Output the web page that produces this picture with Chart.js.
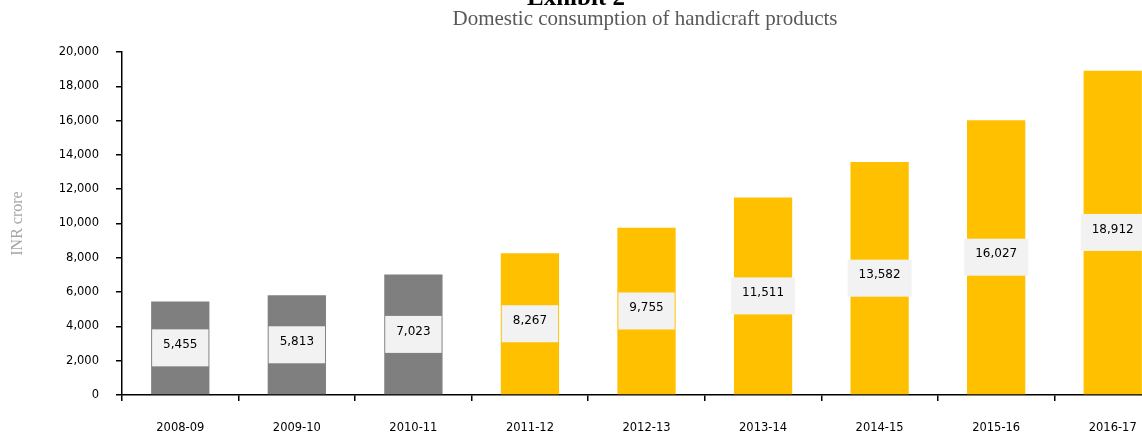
<!DOCTYPE html>
<html>
<head>
<meta charset="utf-8">
<script src="https://cdn.jsdelivr.net/npm/chart.js@4"></script>
<style>
    html, body { margin: 0; padding: 0; background: #fff; overflow: hidden; }
    #wrap { width: 1175px; height: 432px; }
</style>
</head>
<body>
<div id="wrap"><canvas id="domesticChart"></canvas></div>
<script>
// Dữ liệu biểu đồ
const categories = ['2008-09', '2009-10', '2010-11', '2011-12', '2012-13', '2013-14', '2014-15', '2015-16', '2016-17'];
const consumption = [5455, 5813, 7023, 8267, 9755, 11511, 13582, 16027, 18912];
const periodType = ['actual', 'actual', 'actual', 'estimate', 'estimate', 'estimate', 'estimate', 'estimate', 'estimate'];
const yTicks = [0, 2000, 4000, 6000, 8000, 10000, 12000, 14000, 16000, 18000, 20000];

const chartTitle = 'Exhibit 2';
const chartSubtitle = 'Domestic consumption of handicraft products';
const yAxisTitle = 'INR crore';

const GREY = '#7f7f7f';
const YELLOW = '#ffc000';
const TICK_FONT = 'DejaVu Sans';

// Ô nhãn giá trị ở giữa cột
const valueBoxPlugin = {
    id: 'valueBox',
    afterDatasetsDraw(chart) {
        const ctx = chart.ctx;
        const meta = chart.getDatasetMeta(0);
        ctx.save();
        ctx.font = '12px "' + TICK_FONT + '"';
        meta.data.forEach((bar, i) => {
            const text = consumption[i].toLocaleString('en-US');
            const w = ctx.measureText(text).width + 22;
            const h = 37;
            const cy = (bar.y + bar.base) / 2;
            ctx.fillStyle = '#f2f2f2';
            ctx.fillRect(bar.x - w / 2, cy - h / 2, w, h);
            ctx.fillStyle = '#000';
            ctx.textAlign = 'center';
            ctx.textBaseline = 'middle';
            ctx.fillText(text, bar.x, cy - 3);
        });
        ctx.restore();
    }
};

// Tiêu đề phía trên
const headingPlugin = {
    id: 'heading',
    afterDraw(chart) {
        const ctx = chart.ctx;
        ctx.save();
        ctx.textAlign = 'center';
        ctx.textBaseline = 'alphabetic';
        ctx.fillStyle = '#000';
        ctx.font = 'bold 25px "Liberation Serif"';
        ctx.fillText(chartTitle, 576, 5);
        ctx.fillStyle = '#595959';
        ctx.font = '21px "Liberation Serif"';
        ctx.fillText(chartSubtitle, 645, 25);
        ctx.restore();
    }
};

const ctx = document.getElementById('domesticChart').getContext('2d');
new Chart(ctx, {
    type: 'bar',
    data: {
        labels: categories,
        datasets: [{
            data: consumption,
            backgroundColor: periodType.map(t => t === 'actual' ? GREY : YELLOW),
            borderWidth: 0,
            barPercentage: 0.5,
            categoryPercentage: 1
        }]
    },
    options: {
        responsive: true,
        maintainAspectRatio: false,
        animation: false,
        layout: { padding: { top: 52, right: 4, left: 0, bottom: 0 } },
        plugins: {
            legend: { display: false },
            tooltip: { enabled: false }
        },
        scales: {
            x: {
                offset: true,
                grid: {
                    offset: true,
                    drawOnChartArea: false,
                    drawTicks: true,
                    tickLength: 6,
                    color: '#000',
                    lineWidth: 1.5
                },
                border: { color: '#000', width: 1.5 },
                ticks: {
                    color: '#000',
                    padding: 20,
                    maxRotation: 0,
                    font: { family: TICK_FONT, size: 11.5 }
                },
                afterFit(scale) { scale.height = 37; }
            },
            y: {
                min: 0,
                max: 20000,
                afterBuildTicks(scale) { scale.ticks = yTicks.map(v => ({ value: v })); },
                grid: {
                    drawOnChartArea: false,
                    drawTicks: true,
                    tickLength: 6,
                    color: '#000',
                    lineWidth: 1.5
                },
                border: { color: '#000', width: 1.5 },
                ticks: {
                    color: '#000',
                    padding: 17,
                    font: { family: TICK_FONT, size: 11.5 },
                    callback: v => v.toLocaleString('en-US')
                },
                title: {
                    display: true,
                    text: yAxisTitle,
                    color: '#a6a6a6',
                    font: { family: 'Liberation Serif', size: 16 },
                    padding: { top: 8, bottom: 0 }
                },
                afterFit(scale) { scale.width = 122; }
            }
        }
    },
    plugins: [valueBoxPlugin, headingPlugin]
});
</script>
</body>
</html>
